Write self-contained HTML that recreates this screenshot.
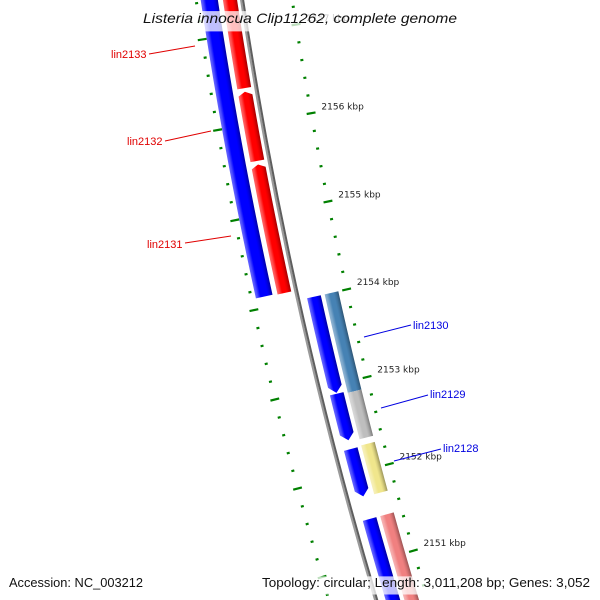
<!DOCTYPE html>
<html><head><meta charset="utf-8"><style>
html,body{margin:0;padding:0;background:#fff;width:600px;height:600px;overflow:hidden;}
svg{display:block;font-family:"Liberation Sans",sans-serif;overflow:hidden;}
</style></head><body>
<svg id="map" width="600" height="600" viewBox="0 0 600 600" xmlns="http://www.w3.org/2000/svg">
<defs id="defs"></defs>
<g id="ticks"></g>
<g id="backbone"></g>
<g id="features"></g>
<g id="labels"></g>
</svg>
<script>
// data (kbp)
const tickStart = 2150.0;
const tickEnd = 2157.6;
const majorTickLabels = [2151, 2152, 2153, 2154, 2155, 2156, 2157];
const featNames = ["outer-blue","red-a","red-b","red-c","inner-blue-1","inner-blue-2","inner-blue-3","inner-blue-4","lin2130","lin2129","lin2128","pink-gene"];
const featStart = [2154.12, 2154.11, 2155.59, 2156.40, 2152.91, 2152.37, 2151.73, 2150.0, 2152.88, 2152.35, 2151.72, 2150.0];
const featEnd   = [2158.0, 2155.55, 2156.36, 2158.0, 2154.0, 2152.90, 2152.27, 2151.47, 2154.0, 2152.88, 2152.28, 2151.47];
const featArrow = ["none","end","end","end","start","start","start","none","none","none","none","none"];
const featRing  = [2, 1, 1, 1, -1, -1, -1, -1, -2, -2, -2, -2];
const featColor = ["#0000ff","#ff0000","#ff0000","#ff0000","#0000ff","#0000ff","#0000ff","#0000ff","#4682b4","#bebebe","#f0e68c","#f08080"];

const NS="http://www.w3.org/2000/svg";
const CX=4627, CY=-665, R0=4435;
function theta(p){return 2.9222+(p-2154)*0.0205;}
function pt(r,p){const t=theta(p);return [CX+r*Math.cos(t), CY+r*Math.sin(t)];}
const ringR={2:[R0+24,R0+41],1:[R0+5,R0+19],"-1":[R0-23,R0-9],"-2":[R0-41,R0-27]};
function mk(tag,attrs,parent){const e=document.createElementNS(NS,tag);for(const k in attrs)e.setAttribute(k,attrs[k]);parent.appendChild(e);return e;}
function shade(hex,f){let n=parseInt(hex.slice(1),16);let r=n>>16,g=(n>>8)&255,b=n&255;
 if(f>0){r+= (255-r)*f;g+=(255-g)*f;b+=(255-b)*f;}else{r*=1+f;g*=1+f;b*=1+f;}
 return "rgb("+Math.round(r)+","+Math.round(g)+","+Math.round(b)+")";}

// ticks
const tk=document.getElementById('ticks');
const n=Math.round((tickEnd-tickStart)*5);
for(let i=0;i<=n;i++){
 const p=tickStart+i/5; const major=(i%5===0);
 const pairs=major?[[R0-54,R0-45],[R0+41,R0+50]]:[[R0-51,R0-48],[R0+44,R0+47]];
 pairs.forEach(pr=>{const a=pt(pr[0],p),b=pt(pr[1],p);
  const l=mk('line',{x1:a[0],y1:a[1],x2:b[0],y2:b[1],stroke:"#008000","stroke-width":major?2.2:2.2},tk);
  
  });
}
majorTickLabels.forEach(v=>{const a=pt(R0-60,v);
 const t=mk('text',{x:a[0],y:a[1]-2,"font-size":"9","font-family":"DejaVu Sans, sans-serif",fill:"#222"},tk);
 
 
 t.textContent=v+" kbp";});

// backbone
const bb=document.getElementById('backbone');
mk('circle',{cx:CX,cy:CY,r:R0+1,fill:"none",stroke:"#9a9a9a","stroke-width":2.2},bb);
mk('circle',{cx:CX,cy:CY,r:R0-1,fill:"none",stroke:"#5e5e5e","stroke-width":2},bb);

// features
const defs=document.getElementById('defs');
const fg=document.getElementById('features');
featNames.forEach((nm,i)=>{
 const [ri,ro]=ringR[featRing[i]]; const rm=(ri+ro)/2;
 let s=featStart[i], e=featEnd[i]; const ar=featArrow[i];
 const AH = featRing[i]>0 ? 0.04 : 0.075;
 let bs=s, be=e; if(ar==="end")be=e-AH; if(ar==="start")bs=s+AH;
 const pts=[]; const N=16;
 for(let k=0;k<=N;k++){pts.push(pt(ro,bs+(be-bs)*k/N));}
 if(ar==="end")pts.push(pt(rm,e));
 for(let k=N;k>=0;k--){pts.push(pt(ri,bs+(be-bs)*k/N));}
 if(ar==="start")pts.push(pt(rm,s));
 const gid="g"+i;
 const g=mk('radialGradient',{id:gid,gradientUnits:"userSpaceOnUse",cx:CX,cy:CY,r:ro},defs);
 const c=featColor[i];
 [[ri/ro,shade(c,-0.35)],[(ri+3)/ro,shade(c,-0.1)],[(ri+5)/ro,c],[(ro-5)/ro,c],[(ro-2)/ro,shade(c,0.3)],[1,shade(c,0.4)]]
  .forEach(st=>mk('stop',{offset:st[0],"stop-color":st[1]},g));
 const poly=mk('polygon',{points:pts.map(q=>q[0].toFixed(2)+","+q[1].toFixed(2)).join(" "),fill:"url(#"+gid+")"},fg);
 
 
});

// labels
const lb=document.getElementById('labels');
const labs=[["lin2133",111,54,149,54,195,46,"#e00000"],["lin2132",127,141,165,141,211,131,"#e00000"],["lin2131",147,244,185,243,231,236,"#e00000"],
 ["lin2130",413,325,364,337,411,325,"#0000e0"],["lin2129",430,394,381,408,428,395,"#0000e0"],["lin2128",443,448,394,461,441,449,"#0000e0"]];
labs.forEach(L=>{
 const ln=mk('line',{x1:L[3],y1:L[4],x2:L[5],y2:L[6],stroke:L[7],"stroke-width":1},lb);
 
 
 const t=mk('text',{x:L[1],y:L[2]+4,"font-size":"11",fill:L[7]},lb);
 
 
 t.textContent=L[0];
});
// title and footer
function boxText(txt,x,y,w,size,style,name){
 const r=mk('rect',{x:x-3,y:y-size*0.85,width:w+6,height:size*1.45,fill:"rgba(255,255,255,0.75)"},lb);
 
 
 const t=mk('text',{x:x,y:y,"font-size":size,fill:"#111","font-style":style,textLength:w,lengthAdjust:"spacingAndGlyphs"},lb);
 
 
 t.textContent=txt;
}
boxText("Listeria innocua Clip11262, complete genome",143,23,314,14,"italic","chart-title");
boxText("Accession: NC_003212",9,587,134,12.5,"normal","accession-label");
boxText("Topology: circular; Length: 3,011,208 bp; Genes: 3,052",262,587,328,12.5,"normal","genome-summary");
</script>
</body></html>
